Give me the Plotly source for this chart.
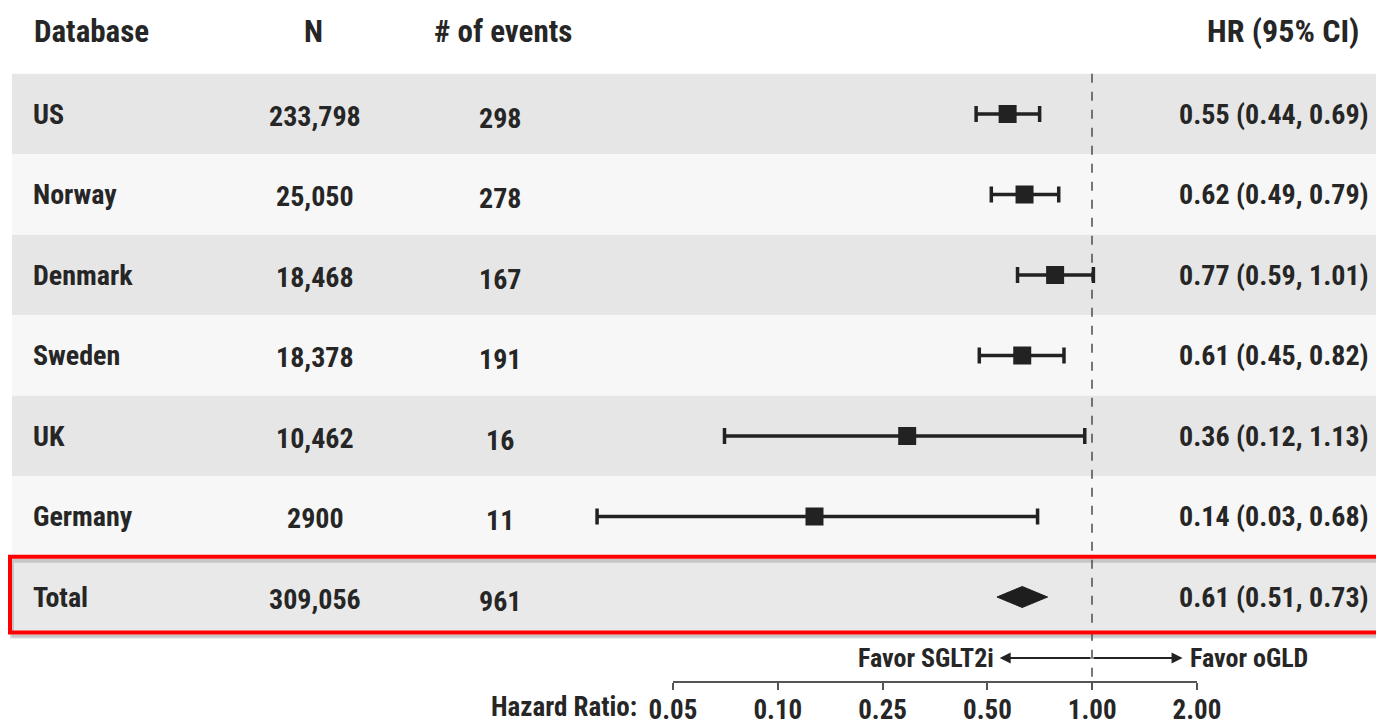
import math
import plotly.graph_objects as go

# ---------------- data ----------------
databases = ["US", "Norway", "Denmark", "Sweden", "UK", "Germany", "Total"]
n_patients = ["233,798", "25,050", "18,468", "18,378", "10,462", "2900", "309,056"]
n_events = ["298", "278", "167", "191", "16", "11", "961"]
hr_ci_text = ["0.55 (0.44, 0.69)", "0.62 (0.49, 0.79)", "0.77 (0.59, 1.01)",
              "0.61 (0.45, 0.82)", "0.36 (0.12, 1.13)", "0.14 (0.03, 0.68)",
              "0.61 (0.51, 0.73)"]
# hazard ratios / CIs as drawn in the picture (UK marks are drawn at these spots)
hr = [0.55, 0.62, 0.77, 0.61, 0.27, 0.14, 0.61]
ci_lo = [0.44, 0.49, 0.59, 0.45, 0.074, 0.03, 0.51]
ci_hi = [0.69, 0.79, 1.01, 0.82, 0.95, 0.68, 0.73]
headers = ["Database", "N", "# of events", "HR (95% CI)"]
# bottom scale: labels are evenly spaced in the picture
tick_text = ["0.05", "0.10", "0.25", "0.50", "1.00", "2.00"]
favor_left, favor_right = "Favor SGLT2i", "Favor oGLD"
axis_title = "Hazard Ratio:"
arrow_left_end, arrow_right_end = 0.52, 1.9

# ---------------- layout constants ----------------
W, H = 1384, 726          # page / window size
OFF = 8                   # default page margin around the plot div
FW, FH = W - OFF, H - OFF # figure size
PX_PER_DEC = 325.0
X_ONE = 1092.0            # window pixel of HR = 1
ROW0, ROW_H = 114.0, 80.5 # window pixel of first row centre, row pitch
FONT = "Roboto Condensed, Open Sans Condensed, Liberation Sans Narrow, sans-serif"
TXT = "#262626"

def px(v):
    """window x pixel -> paper x"""
    return (v - OFF) / FW

def py(v):
    """window y pixel -> paper y"""
    return 1 - (v - OFF) / FH

def row(pix):
    """window y pixel -> row coordinate"""
    return (pix - ROW0) / ROW_H

x_range = [(OFF - X_ONE) / PX_PER_DEC, (W - X_ONE) / PX_PER_DEC]
y_range = [row(H), row(OFF)]

n_rows = len(databases)
idx = list(range(n_rows))
study_idx = idx[:-1]
tot = idx[-1]

fig = go.Figure()

# row bands
shapes = []
for i in idx:
    color = "#e6e6e6" if i % 2 == 0 else "#f7f7f7"
    if i == tot:
        color = "#e9e9e9"
    shapes.append(dict(type="rect", xref="paper", yref="y", x0=px(12), x1=1.0,
                       y0=i - 0.5, y1=i + 0.5, fillcolor=color, line_width=0, layer="below"))
# shadow + red box around total row
shapes.append(dict(type="rect", xref="paper", yref="y", x0=px(12), x1=1.02,
                   y0=tot - 0.5 + 0.05, y1=tot + 0.44 + 0.05,
                   line=dict(color="rgba(0,0,0,0.15)", width=4),
                   fillcolor="rgba(0,0,0,0)", layer="below"))
shapes.append(dict(type="rect", xref="paper", yref="y", x0=px(10), x1=1.02,
                   y0=tot - 0.5, y1=tot + 0.44, line=dict(color="#ff0000", width=4),
                   fillcolor="rgba(0,0,0,0)", layer="above"))

# reference dashed line at HR = 1
fig.add_trace(go.Scatter(x=[1, 1], y=[-0.5, row(690)], mode="lines",
                         line=dict(color="#555555", width=1.6, dash="dash"),
                         hoverinfo="skip", showlegend=False))

# study estimates
fig.add_trace(go.Scatter(
    x=[hr[i] for i in study_idx], y=study_idx, mode="markers",
    marker=dict(symbol="square", size=18, color="#222222"),
    error_x=dict(type="data", symmetric=False,
                 array=[ci_hi[i] - hr[i] for i in study_idx],
                 arrayminus=[hr[i] - ci_lo[i] for i in study_idx],
                 color="#222222", thickness=3.5, width=8),
    showlegend=False, hoverinfo="skip"))

# total diamond
dh = 10.5 / ROW_H
fig.add_trace(go.Scatter(
    x=[ci_lo[tot], hr[tot], ci_hi[tot], hr[tot], ci_lo[tot]],
    y=[tot, tot - dh, tot, tot + dh, tot],
    mode="lines", fill="toself", fillcolor="#1e1e1e",
    line=dict(color="#1e1e1e", width=1), showlegend=False, hoverinfo="skip"))

# invisible trace carrying the bottom scale axis
fig.add_trace(go.Scatter(x=[0], y=[0], xaxis="x2", yaxis="y", mode="markers",
                         marker=dict(opacity=0), showlegend=False, hoverinfo="skip"))

ann = []
def text(x, y, s, size, anchor="left", yref="y", xref="paper", yanchor="middle"):
    ann.append(dict(x=x, y=y, xref=xref, yref=yref, text="<b>%s</b>" % s, showarrow=False,
                    xanchor=anchor, yanchor=yanchor,
                    font=dict(family=FONT, size=size, color=TXT)))

# headers
hy = row(31)
text(px(32), hy, headers[0], 31, "left")
text(px(313), hy, headers[1], 31, "center")
text(px(503), hy, headers[2], 31, "center")
text(px(1361), hy, headers[3], 32, "right")

for i in idx:
    text(px(31), i, databases[i], 28, "left")
    text(px(315), i + 0.03, n_patients[i], 28, "center")
    text(px(500), i + 0.05, n_events[i], 28, "center")
    text(px(1371), i, hr_ci_text[i], 28, "right")

# favor arrows
fy = row(658)
for end in (arrow_left_end, arrow_right_end):
    ann.append(dict(x=math.log10(end), y=fy, ax=0, ay=fy, xref="x", yref="y", axref="x", ayref="y",
                    text="", showarrow=True, arrowhead=2, arrowsize=1.1, arrowwidth=2,
                    arrowcolor="#222222"))
text(px(996), fy, favor_left, 26, "right")
text(px(1188), fy, favor_right, 26, "left")
text(px(639), py(725), axis_title, 27, "right", yref="paper", yanchor="bottom")

fig.update_layout(
    width=FW, height=FH, margin=dict(l=0, r=0, t=0, b=0, autoexpand=False),
    paper_bgcolor="white", plot_bgcolor="rgba(0,0,0,0)",
    shapes=shapes, annotations=ann, showlegend=False,
    xaxis=dict(type="log", range=x_range, visible=False, domain=[0, 1], fixedrange=True,
               automargin=False),
    xaxis2=dict(type="linear", range=[0, len(tick_text) - 1],
                domain=[px(673), px(1197)], anchor="free", position=py(682),
                showline=True, linecolor="#555555", linewidth=2,
                ticks="outside", ticklen=7, tickwidth=2, tickcolor="#555555",
                tickvals=list(range(len(tick_text))), ticktext=tick_text,
                showgrid=False, zeroline=False, automargin=False,
                tickfont=dict(family=FONT, size=27, color=TXT, weight="bold"),
                ticklabelstandoff=-3, fixedrange=True),
    yaxis=dict(range=y_range, visible=False, domain=[0, 1], fixedrange=True, automargin=False),
)

fig.write_html("out.html")
